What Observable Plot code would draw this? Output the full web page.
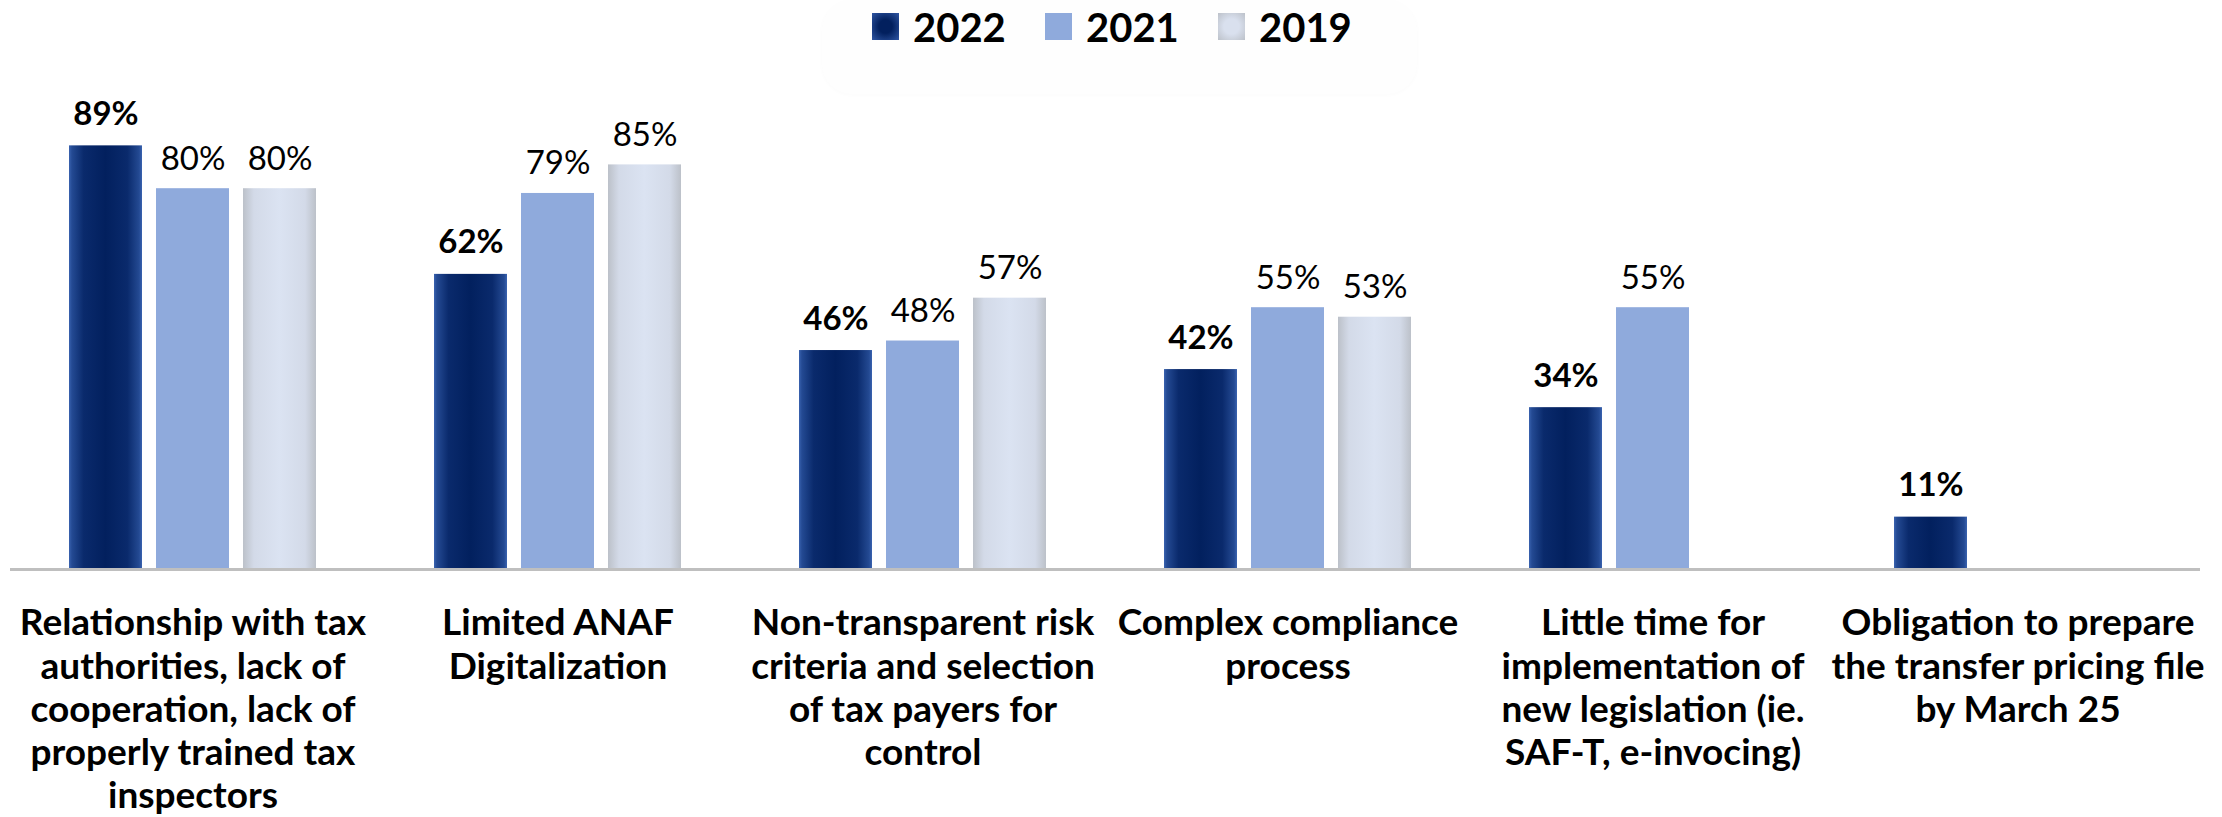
<!DOCTYPE html>
<html><head><meta charset="utf-8">
<script src="https://cdn.jsdelivr.net/npm/d3@7"></script>
<script src="https://cdn.jsdelivr.net/npm/@observablehq/plot@0.6"></script>
<style>
html,body{margin:0;padding:0;background:#fff;}
body{font-family:Lato,sans-serif;width:2222px;height:817px;overflow:hidden;position:relative;}
#legend{position:relative;width:2222px;height:52px;}
#legend .box{position:absolute;left:822px;top:0;width:595px;height:94px;border-radius:30px;background:#fefefe;box-shadow:0 1px 4px rgba(0,0,0,0.02);}
#legend .item{position:absolute;top:0;height:53px;display:flex;align-items:center;}
#legend .sw{width:27px;height:27px;margin-right:14px;}
#legend .lab{font-size:40px;font-weight:bold;color:#000;line-height:1;}
#chart{position:absolute;left:0;top:52px;}
</style></head>
<body>
<svg width="0" height="0" style="position:absolute">
 <defs>
  <linearGradient id="g2022" x1="0" x2="1" y1="0" y2="0">
   <stop offset="0" stop-color="#3a63b0"/>
   <stop offset="0.04" stop-color="#244a93"/>
   <stop offset="0.2" stop-color="#0a2a6c"/>
   <stop offset="0.5" stop-color="#02205e"/>
   <stop offset="0.8" stop-color="#0a2a6c"/>
   <stop offset="0.96" stop-color="#244a93"/>
   <stop offset="1" stop-color="#3a63b0"/>
  </linearGradient>
  <linearGradient id="g2019" x1="0" x2="1" y1="0" y2="0">
   <stop offset="0" stop-color="#bcc1c9"/>
   <stop offset="0.15" stop-color="#d3dae8"/>
   <stop offset="0.5" stop-color="#dbe3f2"/>
   <stop offset="0.85" stop-color="#d3dae8"/>
   <stop offset="1" stop-color="#bcc1c9"/>
  </linearGradient>
 </defs>
</svg>
<div id="legend"><div class="box"></div></div>
<div id="chart"></div>
<script>
const categories = ["rel","anaf","risk","complex","time","tp"];
const tickLabels = [
  "Relationship with tax\nauthorities, lack of\ncooperation, lack of\nproperly trained tax\ninspectors",
  "Limited ANAF\nDigitalization",
  "Non-transparent risk\ncriteria and selection\nof tax payers for\ncontrol",
  "Complex compliance\nprocess",
  "Little time for\nimplementation of\nnew legislation (ie.\nSAF-T, e-invocing)",
  "Obligation to prepare\nthe transfer pricing file\nby March 25"
];
const years = ["2022","2021","2019"];
const v2022 = [89, 62, 46, 42, 34, 11];
const v2021 = [80, 79, 48, 55, 55, null];
const v2019 = [80, 85, 57, 53, null, null];
const fills = ["url(#g2022)", "#8faadc", "url(#g2019)"];
const swatchCss = ["radial-gradient(circle,#02205e 35%,#2f56a3 100%)", "#8faadc", "radial-gradient(circle,#d9e0ee 40%,#bcc1c9 100%)"];

const series = [v2022, v2021, v2019];
const rows = [];
categories.forEach((c, i) => {
  years.forEach((y, j) => {
    const v = series[j][i];
    if (v != null) rows.push({cat: c, year: y, value: v});
  });
});

const chart = Plot.plot({
  width: 2222,
  height: 765,
  marginTop: 41,
  marginBottom: 248,
  marginLeft: 10,
  marginRight: 22,
  style: {fontFamily: "Lato, sans-serif", background: "transparent", color: "#000"},
  fx: {domain: categories, padding: 0, axis: null, label: null},
  x: {domain: years, paddingInner: 0.166, paddingOuter: 0.669, axis: null},
  y: {domain: [0, 100], axis: null},
  color: {domain: years, range: fills},
  marks: [
    Plot.barY(rows, {fx: "cat", x: "year", y: "value", fill: "year"}),
    Plot.ruleY([0], {stroke: "#bfbfbf", strokeWidth: 3}),
    Plot.text(rows.filter(d => d.year === years[0]), {fx: "cat", x: "year", y: "value", text: d => d.value + "%", dy: -21, lineAnchor: "bottom", fontSize: 33, fontWeight: "bold", fill: "#000"}),
    Plot.text(rows.filter(d => d.year !== years[0]), {fx: "cat", x: "year", y: "value", text: d => d.value + "%", dy: -19, lineAnchor: "bottom", fontSize: 33, fontWeight: "normal", fill: "#000"}),
    Plot.axisFx({anchor: "bottom", tickSize: 0, tickPadding: 35, tickFormat: d => tickLabels[categories.indexOf(d)], fontSize: 37, fontWeight: "bold", lineHeight: 1.17, label: null, fill: "#000"})
  ]
});
document.getElementById("chart").appendChild(chart);

const legend = document.getElementById("legend");
const lefts = [872, 1045, 1218];
years.forEach((y, j) => {
  const it = document.createElement("div");
  it.className = "item";
  it.style.left = lefts[j] + "px";
  it.innerHTML = `<div class="sw" style="background:${swatchCss[j]}"></div><div class="lab">${y}</div>`;
  legend.appendChild(it);
});
</script>
</body></html>
